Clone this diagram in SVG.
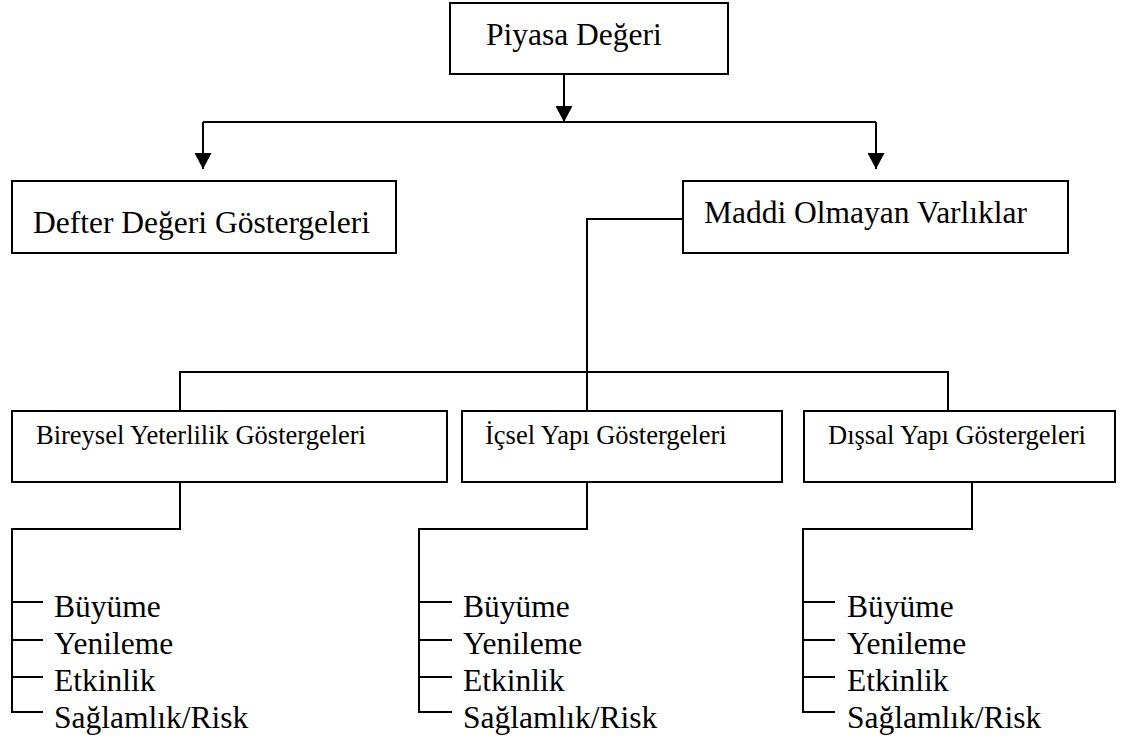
<svg xmlns="http://www.w3.org/2000/svg" width="1123" height="737" viewBox="0 0 1123 737">
  <style>
    .box { fill: #ffffff; stroke: #000000; stroke-width: 2; }
    .wire { fill: none; stroke: #000000; stroke-width: 2; }
    .big { font-family: "Liberation Serif", "Times New Roman", serif; font-size: 31.5px; fill: #000000; }
    .mid { font-family: "Liberation Serif", "Times New Roman", serif; font-size: 26.5px; fill: #000000; }
  </style>
  <defs>
    <marker id="head" viewBox="0 0 16 17" refX="16" refY="8.5" markerWidth="16" markerHeight="17" markerUnits="userSpaceOnUse" orient="auto">
      <path d="M0,0 L16,8.5 L0,17 Z" fill="#000000"/>
    </marker>
  </defs>

  <rect width="1123" height="737" fill="#ffffff"/>

  <!-- connectors -->
  <g id="connectors">
    <line class="wire" x1="564" y1="74" x2="564" y2="122" marker-end="url(#head)"/>
    <polyline class="wire" points="203,122 876,122"/>
    <line class="wire" x1="203" y1="122" x2="203" y2="169" marker-end="url(#head)"/>
    <line class="wire" x1="876" y1="122" x2="876" y2="169" marker-end="url(#head)"/>

    <polyline class="wire" points="683,219 587,219 587,411"/>
    <polyline class="wire" points="180,411 180,372 948,372 948,411"/>

    <polyline class="wire" points="180,482 180,529 12,529 12,712 43,712"/>
    <line class="wire" x1="12" y1="602" x2="43" y2="602"/>
    <line class="wire" x1="12" y1="640" x2="43" y2="640"/>
    <line class="wire" x1="12" y1="677" x2="43" y2="677"/>

    <polyline class="wire" points="587,482 587,529 419,529 419,712 452,712"/>
    <line class="wire" x1="419" y1="602" x2="452" y2="602"/>
    <line class="wire" x1="419" y1="640" x2="452" y2="640"/>
    <line class="wire" x1="419" y1="677" x2="452" y2="677"/>

    <polyline class="wire" points="972,482 972,529 803,529 803,712 835,712"/>
    <line class="wire" x1="803" y1="602" x2="835" y2="602"/>
    <line class="wire" x1="803" y1="640" x2="835" y2="640"/>
    <line class="wire" x1="803" y1="677" x2="835" y2="677"/>
  </g>

  <!-- top level -->
  <g id="piyasa">
    <rect class="box" x="450" y="3" width="278" height="71"/>
    <text class="big" x="486" y="45">Piyasa Değeri</text>
  </g>

  <!-- second level -->
  <g id="defter">
    <rect class="box" x="12" y="181" width="384" height="72"/>
    <text class="big" x="33" y="233">Defter Değeri Göstergeleri</text>
  </g>
  <g id="maddi">
    <rect class="box" x="683" y="181" width="385" height="72"/>
    <text class="big" x="704" y="223">Maddi Olmayan Varlıklar</text>
  </g>

  <!-- third level -->
  <g id="bireysel">
    <rect class="box" x="12" y="411" width="435" height="71"/>
    <text class="mid" x="36" y="444">Bireysel Yeterlilik Göstergeleri</text>
  </g>
  <g id="icsel">
    <rect class="box" x="462" y="411" width="320" height="71"/>
    <text class="mid" x="485" y="444">İçsel Yapı Göstergeleri</text>
  </g>
  <g id="dissal">
    <rect class="box" x="804" y="411" width="311" height="71"/>
    <text class="mid" x="828" y="444">Dışsal Yapı Göstergeleri</text>
  </g>

  <!-- indicator lists -->
  <g id="liste-bireysel" class="big">
    <text x="54" y="617">Büyüme</text>
    <text x="54" y="654">Yenileme</text>
    <text x="54" y="691">Etkinlik</text>
    <text x="54" y="728">Sağlamlık/Risk</text>
  </g>
  <g id="liste-icsel" class="big">
    <text x="463" y="617">Büyüme</text>
    <text x="463" y="654">Yenileme</text>
    <text x="463" y="691">Etkinlik</text>
    <text x="463" y="728">Sağlamlık/Risk</text>
  </g>
  <g id="liste-dissal" class="big">
    <text x="847" y="617">Büyüme</text>
    <text x="847" y="654">Yenileme</text>
    <text x="847" y="691">Etkinlik</text>
    <text x="847" y="728">Sağlamlık/Risk</text>
  </g>
</svg>
